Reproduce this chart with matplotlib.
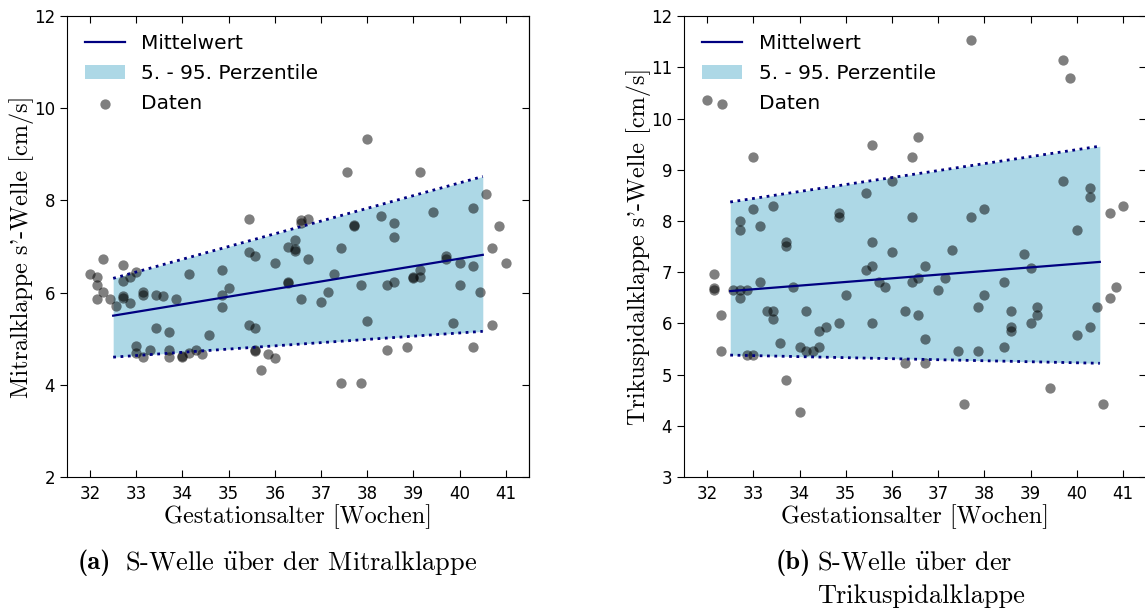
import numpy as np
import matplotlib
matplotlib.use('Agg')
from matplotlib import pyplot as plt

plt.rcParams['mathtext.fontset'] = 'cm'

# Mitralklappe: Gestationsalter [Wochen] und s'-Welle [cm/s]
mv_ga = [32.0, 32.14, 32.14, 32.14, 32.29, 32.29, 32.43, 32.57, 32.71, 32.71, 32.71, 32.71,
         32.86, 32.86, 33.0, 33.0, 33.0, 33.14, 33.14, 33.14, 33.29, 33.43, 33.43, 33.57,
         33.71, 33.71, 33.71, 33.86, 34.0, 34.0, 34.14, 34.14, 34.29, 34.43, 34.57,
         34.86, 34.86, 34.86, 35.0, 35.43, 35.43, 35.43, 35.57, 35.57, 35.57, 35.57,
         35.71, 35.86, 36.0, 36.0, 36.29, 36.29, 36.29, 36.43, 36.43, 36.43,
         36.57, 36.57, 36.57, 36.71, 36.71, 37.0, 37.14, 37.29, 37.43, 37.43, 37.57,
         37.71, 37.71, 37.86, 37.86, 38.0, 38.0, 38.29, 38.43, 38.43, 38.57, 38.57, 38.57,
         38.86, 39.0, 39.0, 39.14, 39.14, 39.14, 39.43, 39.71, 39.71, 39.86, 40.0, 40.0,
         40.29, 40.29, 40.29, 40.43, 40.57, 40.71, 40.71, 40.86, 41.0]
mv_s = [6.41, 6.33, 6.16, 5.87, 6.72, 6.01, 5.87, 5.71, 6.61, 6.26, 5.93, 5.88,
        6.33, 5.78, 6.45, 4.84, 4.68, 6.01, 5.94, 4.60, 4.75, 5.95, 5.23, 5.93,
        5.15, 4.76, 4.60, 5.86, 4.60, 4.62, 6.41, 4.68, 4.75, 4.67, 5.07,
        6.49, 5.95, 5.69, 6.09, 7.59, 6.88, 5.30, 6.79, 5.23, 4.74, 4.76,
        4.32, 4.67, 6.65, 4.58, 7.00, 6.24, 6.20, 7.14, 6.95, 6.90,
        7.57, 7.52, 5.86, 7.59, 6.72, 5.79, 6.02, 6.40, 6.96, 4.03, 8.62,
        7.44, 7.46, 6.17, 4.03, 9.33, 5.38, 7.67, 6.17, 4.76, 7.51, 7.20, 6.24,
        4.83, 6.33, 6.31, 8.62, 6.49, 6.33, 7.75, 6.79, 6.72, 5.35, 6.65, 6.17,
        7.83, 6.57, 4.83, 6.01, 8.15, 6.96, 5.30, 7.44, 6.65]

# Trikuspidalklappe
tv_ga = [32.0, 32.14, 32.14, 32.14, 32.29, 32.29, 32.57, 32.71, 32.71, 32.71, 32.71,
         32.86, 32.86, 33.0, 33.0, 33.0, 33.14, 33.14, 33.29, 33.43, 33.43, 33.43, 33.57,
         33.71, 33.71, 33.71, 33.86, 34.0, 34.0, 34.14, 34.14, 34.29, 34.43, 34.43, 34.57,
         34.86, 34.86, 34.86, 35.0, 35.43, 35.43, 35.57, 35.57, 35.57, 35.57, 35.71, 35.86,
         36.0, 36.0, 36.29, 36.29, 36.43, 36.43, 36.43, 36.57, 36.57, 36.57,
         36.71, 36.71, 36.71, 37.0, 37.14, 37.29, 37.43, 37.57, 37.71, 37.71, 37.86, 37.86,
         38.0, 38.0, 38.43, 38.43, 38.57, 38.57, 38.57, 38.86, 39.0, 39.0, 39.14, 39.14,
         39.43, 39.71, 39.71, 39.86, 40.0, 40.0, 40.29, 40.29, 40.29, 40.43, 40.57,
         40.71, 40.71, 40.86, 41.0]
tv_s = [10.36, 6.96, 6.69, 6.65, 6.17, 5.46, 6.65, 8.00, 7.83, 6.65, 6.49,
        6.65, 5.38, 9.25, 8.23, 5.38, 7.90, 6.80, 6.24, 8.30, 6.24, 6.09, 5.61,
        7.59, 7.51, 4.90, 6.71, 5.54, 4.27, 6.24, 5.46, 5.46, 5.85, 5.54, 5.93,
        8.16, 8.08, 6.00, 6.56, 8.54, 7.04, 9.48, 7.59, 7.12, 6.00, 6.80, 6.71,
        8.78, 7.40, 6.24, 5.22, 9.25, 8.08, 6.80, 9.64, 6.88, 6.17,
        7.12, 5.70, 5.22, 6.65, 6.88, 7.44, 5.46, 4.42, 11.53, 8.08, 6.32, 5.46,
        8.23, 6.56, 6.80, 5.54, 6.24, 5.93, 5.85, 7.35, 7.08, 6.00, 6.32, 6.17,
        4.74, 11.14, 8.78, 10.80, 7.83, 5.78, 8.65, 8.46, 5.93, 6.32, 4.42,
        8.15, 6.49, 6.71, 8.30]

# Referenzbereich (linear): Mittelwert, 5. und 95. Perzentile
fit_ga = [32.5, 40.5]
mv_mean = [5.50, 6.82]
mv_p05 = [4.60, 5.16]
mv_p95 = [6.31, 8.52]
tv_mean = [6.63, 7.20]
tv_p05 = [5.38, 5.22]
tv_p95 = [8.37, 9.46]

serif = ['cmr10', 'DejaVu Serif']
serif_bold = ['cmb10', 'DejaVu Serif']
uml = r'$\ddot{\mathrm{u}}$'


def draw_panel(ax, ga, s, mean, p05, p95, ylim, ylabel):
    ax.fill_between(fit_ga, p05, p95, color='lightblue', lw=0,
                    label='5. - 95. Perzentile', zorder=1)
    ax.plot(fit_ga, p95, ls=':', color='navy', lw=2, zorder=3)
    ax.plot(fit_ga, p05, ls=':', color='navy', lw=2, zorder=3)
    ax.scatter(ga, s, s=55, color='k', alpha=0.5, lw=0, label='Daten', zorder=2)
    ax.plot(fit_ga, mean, color='navy', lw=1.6, label='Mittelwert', zorder=4)

    ax.set_xlim(31.5, 41.5)
    ax.set_ylim(*ylim)
    ax.set_xticks(np.arange(32, 42))
    ax.tick_params(axis='x', direction='in', top=True, bottom=True,
                   length=5, labelsize=12, pad=6)
    ax.tick_params(axis='y', direction='out', left=True, right=False,
                   length=5, labelsize=12)
    sec = ax.secondary_yaxis('right')
    sec.set_yticks(ax.get_yticks())
    sec.tick_params(direction='in', length=5, labelright=False)

    ax.set_xlabel('Gestationsalter [Wochen]', family=serif, fontsize=17.5, labelpad=1)
    ax.set_ylabel(ylabel, family=serif, fontsize=17.5, labelpad=0)

    handles, labels = ax.get_legend_handles_labels()
    order = [labels.index(l) for l in ['Mittelwert', '5. - 95. Perzentile', 'Daten']]
    ax.legend([handles[i] for i in order], [labels[i] for i in order],
              loc='upper left', frameon=False, fontsize=14.5, scatterpoints=1,
              labelspacing=0.55)


fig = plt.figure(figsize=(11.45, 6.08), dpi=100)
ax1 = fig.add_axes([0.0585, 0.2155, 0.4035, 0.758])
ax2 = fig.add_axes([0.5974, 0.2155, 0.4035, 0.758])

draw_panel(ax1, mv_ga, mv_s, mv_mean, mv_p05, mv_p95, (2, 12),
           "Mitralklappe s'-Welle [cm/s]")
draw_panel(ax2, tv_ga, tv_s, tv_mean, tv_p05, tv_p95, (3, 12),
           "Trikuspidalklappe s'-Welle [cm/s]")
ax1.set_yticks([2, 4, 6, 8, 10, 12])

# Unterschriften
cap_y1 = 1 - 563 / 608
cap_y2 = 1 - 596 / 608
fig.text(78 / 1145, cap_y1, '(a)', family=serif_bold, fontsize=19, va='center')
fig.text(125 / 1145, cap_y1, 'S-Welle ' + uml + 'ber der Mitralklappe', family=serif,
         fontsize=19, va='center')
fig.text(776 / 1145, cap_y1, '(b)', family=serif_bold, fontsize=19, va='center')
fig.text(817 / 1145, cap_y1, 'S-Welle ' + uml + 'ber der', family=serif,
         fontsize=19, va='center')
fig.text(817 / 1145, cap_y2, 'Trikuspidalklappe', family=serif,
         fontsize=19, va='center')

fig.savefig('out.png', dpi=100)
